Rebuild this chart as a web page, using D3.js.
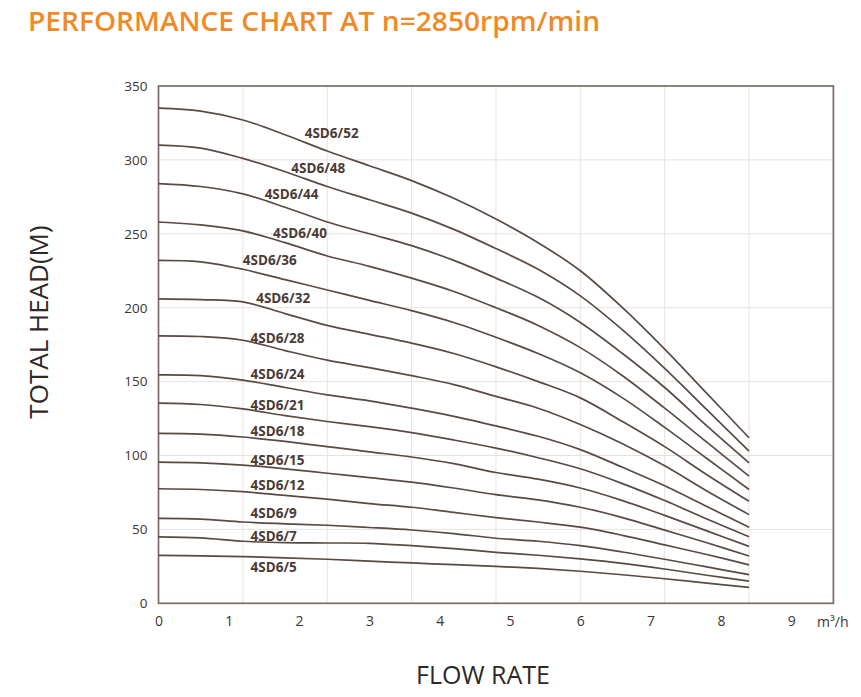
<!DOCTYPE html>
<html>
<head>
<meta charset="utf-8">
<script src="https://cdn.jsdelivr.net/npm/d3@7"></script>
<style>
  html, body { margin: 0; padding: 0; background: #ffffff; }
  svg { display: block; }
</style>
</head>
<body>
<svg id="chart" width="861" height="697"></svg>
<script>
// ---------------- DATA ----------------
const flow = [0, 0.6, 1.2, 1.8, 2.4, 3.0, 3.6, 4.2, 4.8, 5.4, 6.0, 6.6, 7.2, 7.8, 8.4];

const h52 = [335, 333, 327, 317, 306, 296, 286, 274, 260, 244, 225, 200, 172, 142, 112];
const h48 = [310, 308, 301, 292, 282, 273, 264, 253, 240, 226, 208, 185, 159, 131, 103];
const h44 = [284, 282, 277, 268, 258, 250, 242, 232, 220, 207, 190, 169, 146, 120, 95];
const h40 = [258, 256, 252, 244, 235, 228, 220, 211, 200, 188, 173, 154, 132, 109, 86];
const h36 = [232, 231, 226, 219, 212, 205, 198, 190, 180, 169, 156, 139, 119, 98, 77];
const h32 = [206, 205.5, 204, 196, 188, 182, 176, 169, 160, 150, 139, 123, 106, 87, 69];
const h28 = [181, 180.5, 178, 171, 164.5, 159.5, 154, 148, 140, 132, 121, 108, 93, 76, 60];
const h24 = [154.5, 154, 151, 146, 141, 137, 132, 126.5, 120, 113, 104, 92, 79.5, 65.5, 51.5];
const h21 = [135.5, 134.5, 131.5, 127, 123, 119.5, 115.5, 110.5, 105, 98.5, 91, 81, 69.5, 57, 45];
const h18 = [115, 114.5, 112.5, 109.5, 106, 102.5, 99, 94.5, 88.5, 84, 78, 69.5, 59.5, 49, 38.5];
const h15 = [95.5, 95, 93.5, 91, 88, 85, 82, 78, 73.5, 70, 65, 58, 49.5, 41, 32];
const h12 = [77.5, 77, 75.5, 73, 70.5, 67.5, 65, 61.5, 58, 55, 51.5, 46, 39.5, 33, 26];
const h9  = [57.5, 57, 55, 53.8, 52.8, 51.3, 49.6, 47.2, 44, 42, 39, 34.7, 29.8, 24.6, 19.4];
const h7  = [45, 44.3, 42, 41, 40.8, 40.6, 39, 37, 34.5, 32.5, 30, 27, 23.2, 19, 15];
const h5  = [32.4, 32.1, 31.6, 30.8, 29.8, 28.5, 27.3, 26.1, 25, 23.6, 21.7, 19.3, 16.6, 13.7, 10.8];

const modelNames = ["4SD6/52", "4SD6/48", "4SD6/44", "4SD6/40", "4SD6/36", "4SD6/32", "4SD6/28",
                    "4SD6/24", "4SD6/21", "4SD6/18", "4SD6/15", "4SD6/12", "4SD6/9", "4SD6/7", "4SD6/5"];
const modelHeads = [h52, h48, h44, h40, h36, h32, h28, h24, h21, h18, h15, h12, h9, h7, h5];

// label anchor points (flow, head) where each model name sits
const labelFlow = [2.08, 1.89, 1.51, 1.63, 1.20, 1.39, 1.31, 1.31, 1.31, 1.31, 1.31, 1.31, 1.31, 1.31, 1.31];
const labelHead = [315, 291, 273.5, 247, 229, 203, 176, 152, 130.5, 113, 93.5, 76.5, 57.7, 42.3, 21.5];

const xTickValues = [0, 1, 2, 3, 4, 5, 6, 7, 8, 9];
const yTickValues = [0, 50, 100, 150, 200, 250, 300, 350];
const xGridValues = [1.2, 2.4, 3.6, 4.8, 6.0, 7.2, 8.4];
const yGridValues = [50, 100, 150, 200, 250, 300];

// ---------------- DRAW ----------------
const svg = d3.select("#chart");
const FONT = "'Open Sans', 'Noto Sans', sans-serif";

const x = d3.scaleLinear().domain([0, 9.6]).range([158.5, 833.4]);
const y = d3.scaleLinear().domain([0, 350]).range([603.3, 86]);

// title
svg.append("text")
  .attr("x", 28).attr("y", 31)
  .attr("font-family", FONT).attr("font-weight", 600).attr("font-size", 27)
  .attr("fill", "#f08a26")
  .attr("textLength", 572).attr("lengthAdjust", "spacingAndGlyphs")
  .text("PERFORMANCE CHART AT n=2850rpm/min");

// grid
const grid = svg.append("g").attr("stroke", "#e8e2df").attr("stroke-width", 1);
grid.selectAll("line.v").data(xGridValues).join("line")
  .attr("x1", d => x(d)).attr("x2", d => x(d))
  .attr("y1", y(350)).attr("y2", y(0));
grid.selectAll("line.h").data(yGridValues).join("line")
  .attr("x1", x(0)).attr("x2", x(9.6))
  .attr("y1", d => y(d)).attr("y2", d => y(d));

// frame
svg.append("rect")
  .attr("x", x(0)).attr("y", y(350))
  .attr("width", x(9.6) - x(0)).attr("height", y(0) - y(350))
  .attr("fill", "none").attr("stroke", "#7b6c68").attr("stroke-width", 1.7);

// axes
const xAxis = svg.append("g").attr("transform", `translate(0,${y(0)})`)
  .call(d3.axisBottom(x).tickValues(xTickValues).tickFormat(d3.format("d")).tickSize(0).tickPadding(13));
xAxis.select(".domain").remove();
xAxis.selectAll("text").attr("font-family", FONT).attr("font-size", 14).attr("fill", "#3e3331");

const yAxis = svg.append("g").attr("transform", `translate(${x(0)},0)`)
  .call(d3.axisLeft(y).tickValues(yTickValues).tickFormat(d3.format("d")).tickSize(0).tickPadding(11));
yAxis.select(".domain").remove();
yAxis.selectAll("text").attr("font-family", FONT).attr("font-size", 13.5).attr("fill", "#3e3331");

// unit label
svg.append("text")
  .attr("x", 817).attr("y", 627)
  .attr("font-family", FONT).attr("font-size", 14).attr("fill", "#3e3331")
  .text("m³/h");

// curves
const line = d3.line()
  .x((d, i) => x(flow[i]))
  .y(d => y(d))
  .curve(d3.curveCatmullRom.alpha(0.5));

svg.append("g").selectAll("path").data(modelHeads).join("path")
  .attr("d", d => line(d))
  .attr("fill", "none")
  .attr("stroke", "#5b4944")
  .attr("stroke-width", 1.7);

// curve labels
svg.append("g").selectAll("text").data(modelNames).join("text")
  .attr("x", (d, i) => x(labelFlow[i]))
  .attr("y", (d, i) => y(labelHead[i]))
  .attr("font-family", FONT).attr("font-weight", 700).attr("font-size", 13.5)
  .attr("fill", "#4a3b37")
  .text(d => d);

// axis titles
svg.append("text")
  .attr("x", 483).attr("y", 684)
  .attr("text-anchor", "middle")
  .attr("font-family", FONT).attr("font-size", 25).attr("fill", "#2e2826")
  .text("FLOW RATE");

svg.append("text")
  .attr("transform", "translate(48,322) rotate(-90)")
  .attr("text-anchor", "middle")
  .attr("font-family", FONT).attr("font-size", 26).attr("fill", "#2e2826")
  .text("TOTAL HEAD(M)");
</script>
</body>
</html>
